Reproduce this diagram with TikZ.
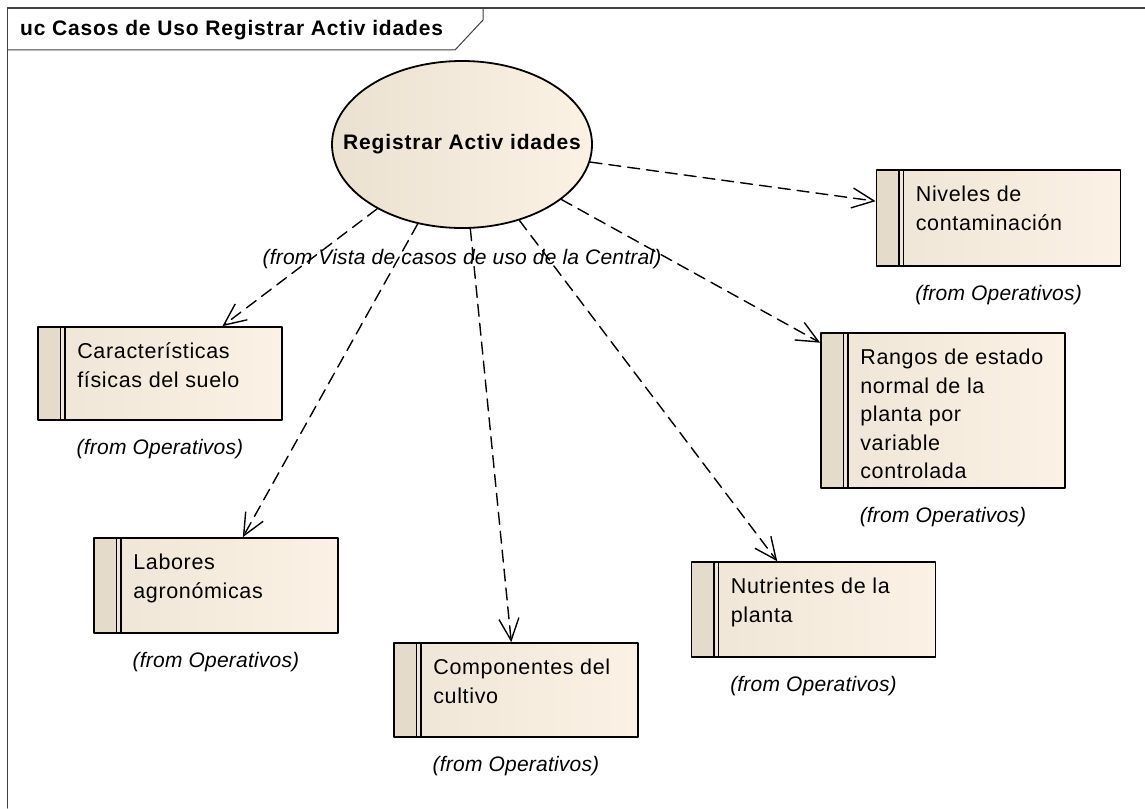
\documentclass[tikz,border=0pt]{standalone}
\usepackage{fontspec}
\setmainfont{Liberation Sans}
\newfontfamily\ucfont[LetterSpace=4]{Liberation Sans}
\newfontfamily\boxfont[LetterSpace=3]{Liberation Sans}
\newfontfamily\fromfont[LetterSpace=1]{Liberation Sans}
\usetikzlibrary{arrows.meta,positioning,backgrounds,shapes.geometric}
\definecolor{ucleft}{RGB}{234,225,209}
\definecolor{ucright}{RGB}{251,242,228}
\definecolor{bxleft}{RGB}{238,229,214}
\definecolor{bxright}{RGB}{251,242,229}
\definecolor{bxstripe}{RGB}{228,219,203}
\definecolor{shadowgray}{RGB}{192,192,192}
\definecolor{framegray}{RGB}{64,64,64}
\newcommand\oplines[1]{\parbox[t]{200pt}{\raggedright #1}}
\tikzset{
  usecase/.style={draw,line width=1.8pt,ellipse,minimum width=260pt,minimum height=167pt,inner sep=0pt,left color=ucleft,right color=ucright},
  uctext/.style={inner sep=0pt,font=\ucfont\bfseries\fontsize{21}{24}\selectfont},
  opbox/.style={draw,line width=1.7pt,rectangle,minimum width=244pt,minimum height=94pt,inner sep=0pt,left color=bxleft,right color=bxright,
    path picture={
      \fill[bxstripe] (path picture bounding box.north west) rectangle ([xshift=22.5pt]path picture bounding box.south west);
      \draw[line width=1.2pt] ([xshift=22.5pt]path picture bounding box.north west) -- ([xshift=22.5pt]path picture bounding box.south west);
      \draw[line width=1.2pt] ([xshift=27pt]path picture bounding box.north west) -- ([xshift=27pt]path picture bounding box.south west);
    }},
  optext/.style={anchor=base west,inner sep=0pt,font=\boxfont\fontsize{21.5}{28.5}\selectfont},
  fromlbl/.style={inner sep=0pt,font=\fromfont\itshape\fontsize{21}{24}\selectfont},
  dep/.style={draw,dash pattern=on 12pt off 7pt,line width=1.4pt,->},
}
\begin{document}
\begin{tikzpicture}[line cap=round,line join=round,>={Straight Barb[length=22pt,width=20pt]},x=1pt,y=-1pt]
\fill[white] (0,0) rectangle (1145,808);
\useasboundingbox (0,0) rectangle (1145,808);
% frame and title tab
\draw[framegray,line width=1.2pt] (7.5,808) -- (7.5,8) -- (1145,8);
\draw[framegray,line width=1pt] (7.5,50) -- (455,50) -- (483,20) -- (483,8);
\node[uctext,anchor=base west] (ttl) at (20,36) {uc Casos de Uso Registrar Activ idades};
% use case
\node[usecase] (uc) at (462,144.5) {};
\node[uctext] (uct) at (uc.center) {Registrar Activ idades};
\node[fromlbl,below=20pt of uc] (ucf) {(from Vista de casos de uso de la Central)};
% requirement boxes
\node[opbox,minimum height=96pt] (niv) at (998.5,218) {};
\node[opbox,minimum height=93pt] (car) at (160,373.5) {};
\node[opbox,minimum height=155pt] (ran) at (943,410.5) {};
\node[opbox,minimum height=95pt] (lab) at (216,585.5) {};
\node[opbox] (com) at (516,690) {};
\node[opbox,minimum height=95pt] (nut) at (813.5,609.5) {};
\node[optext] (nivt) at ([shift={(40pt,-32.5pt)}]niv.north west) {\oplines{Niveles de\\contaminación}};
\node[optext] (cart) at ([shift={(40pt,-32.5pt)}]car.north west) {\oplines{Características\\físicas del suelo}};
\node[optext] (rant) at ([shift={(40pt,-32.5pt)}]ran.north west) {\oplines{Rangos de estado\\normal de la\\planta por\\variable\\controlada}};
\node[optext] (labt) at ([shift={(40pt,-32.5pt)}]lab.north west) {\oplines{Labores\\agronómicas}};
\node[optext] (comt) at ([shift={(40pt,-32.5pt)}]com.north west) {\oplines{Componentes del\\cultivo}};
\node[optext] (nutt) at ([shift={(40pt,-32.5pt)}]nut.north west) {\oplines{Nutrientes de la\\planta}};
\foreach \b in {niv,car,ran,lab,com,nut}
  \node[fromlbl,below=18pt of \b] (\b f) {(from Operativos)};
% shadows
\begin{scope}[on background layer]
\foreach \b in {niv,car,ran,lab,com,nut}
  \fill[shadowgray] ([shift={(6pt,-6pt)}]\b.north west) rectangle ([shift={(6pt,-6pt)}]\b.south east);
\fill[shadowgray] ([shift={(5pt,-5pt)}]uc.center) ellipse [x radius=130pt,y radius=83.5pt];
\end{scope}
% dependencies
\foreach \b in {niv,ran,nut,com,lab,car}
  \draw[dep] (uc) -- (\b);
\end{tikzpicture}
\end{document}
